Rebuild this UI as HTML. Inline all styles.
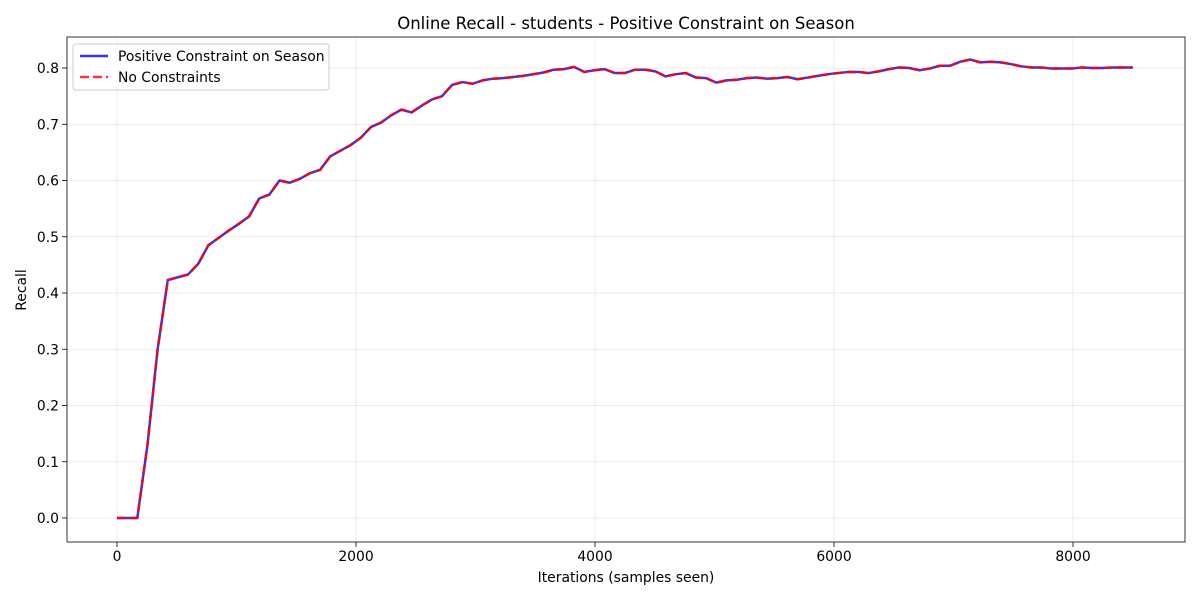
<!DOCTYPE html>
<html><head><meta charset="utf-8"><style>
body{margin:0;background:#fff;font-family:"Liberation Sans","DejaVu Sans",sans-serif}
svg text{font-family:"DejaVu Sans","Liberation Sans",sans-serif}
</style></head><body>
<svg id="chart" width="1200" height="600" xmlns="http://www.w3.org/2000/svg">
<rect width="1200" height="600" fill="#fff"/>
<text x="626" y="29" font-size="16.5" text-anchor="middle" fill="#000">Online Recall - students - Positive Constraint on Season</text>
<g id="grid"></g>
<g id="series"></g>
<rect x="67" y="37" width="1118" height="505" fill="none" stroke="#222" stroke-width="0.9"/>
<g id="ticks"></g>
<text x="626" y="582" font-size="13.9" text-anchor="middle">Iterations (samples seen)</text>
<text transform="translate(26,290) rotate(-90)" font-size="13.9" text-anchor="middle">Recall</text>
<g>
<rect x="73" y="44" width="256" height="46" rx="3" fill="#fff" fill-opacity="0.8" stroke="#ccc"/>
<line x1="80" y1="56" x2="108" y2="56" stroke="#0000ff" stroke-opacity="0.8" stroke-width="2.5"/>
<text x="118" y="61" font-size="13.9">Positive Constraint on Season</text>
<line x1="80" y1="77" x2="108" y2="77" stroke="#ff0000" stroke-opacity="0.8" stroke-width="2.5" stroke-dasharray="9,4"/>
<text x="118" y="82" font-size="13.9">No Constraints</text>
</g>
</svg>
<script>
const step = 85;
const positiveRecall = [0,0,0,0.13,0.30,0.423,0.428,0.433,0.452,0.485,0.498,0.511,0.523,0.536,0.568,0.575,0.600,0.596,0.603,0.613,0.619,0.643,0.653,0.663,0.676,0.695,0.703,0.716,0.726,0.721,0.733,0.744,0.750,0.770,0.775,0.772,0.778,0.781,0.782,0.784,0.786,0.789,0.792,0.797,0.798,0.802,0.793,0.796,0.798,0.791,0.791,0.797,0.797,0.794,0.785,0.789,0.791,0.783,0.782,0.774,0.778,0.779,0.782,0.783,0.781,0.782,0.784,0.780,0.783,0.786,0.789,0.791,0.793,0.793,0.791,0.794,0.798,0.801,0.800,0.796,0.799,0.804,0.804,0.811,0.815,0.810,0.811,0.810,0.807,0.803,0.801,0.801,0.799,0.799,0.799,0.801,0.800,0.800,0.801,0.801,0.801];
const noConstraintRecall = [0,0,0,0.13,0.30,0.423,0.428,0.433,0.452,0.485,0.498,0.511,0.523,0.536,0.568,0.575,0.600,0.596,0.603,0.613,0.619,0.643,0.653,0.663,0.676,0.695,0.703,0.716,0.726,0.721,0.733,0.744,0.750,0.770,0.775,0.772,0.778,0.781,0.782,0.784,0.786,0.789,0.792,0.797,0.798,0.802,0.793,0.796,0.798,0.791,0.791,0.797,0.797,0.794,0.785,0.789,0.791,0.783,0.782,0.774,0.778,0.779,0.782,0.783,0.781,0.782,0.784,0.780,0.783,0.786,0.789,0.791,0.793,0.793,0.791,0.794,0.798,0.801,0.800,0.796,0.799,0.804,0.804,0.811,0.815,0.810,0.811,0.810,0.807,0.803,0.801,0.801,0.799,0.799,0.799,0.801,0.800,0.800,0.801,0.801,0.801];
const xTicks = [0,2000,4000,6000,8000];
const yTicks = [0,0.1,0.2,0.3,0.4,0.5,0.6,0.7,0.8];

const NS="http://www.w3.org/2000/svg";
const L=67,R=1185,T=37,B=542;
const xs=v=>117+v*(956/8000);
const ys=v=>518-v*(450/0.8);
const grid=document.getElementById('grid'),ticks=document.getElementById('ticks'),series=document.getElementById('series');
function mk(tag,attrs,parent){const e=document.createElementNS(NS,tag);for(const k in attrs)e.setAttribute(k,attrs[k]);parent.appendChild(e);return e;}
xTicks.forEach(t=>{
  const x=xs(t);
  const g=mk('line',{x1:x,x2:x,y1:T,y2:B,stroke:'#b0b0b0','stroke-opacity':0.3,'stroke-width':0.8},grid);
  
  
  const tk=mk('line',{x1:x,x2:x,y1:B,y2:B+5,stroke:'#000','stroke-width':0.8},ticks);
  
  
  const tx=mk('text',{x:x,y:B+19,'font-size':13.9,'text-anchor':'middle'},ticks);
  tx.textContent=String(t);
  
  
});
yTicks.forEach(t=>{
  const y=ys(t);
  const g=mk('line',{x1:L,x2:R,y1:y,y2:y,stroke:'#b0b0b0','stroke-opacity':0.3,'stroke-width':0.8},grid);
  
  
  const tk=mk('line',{x1:L-5,x2:L,y1:y,y2:y,stroke:'#000','stroke-width':0.8},ticks);
  
  
  const tx=mk('text',{x:L-8,y:y+5,'font-size':13.9,'text-anchor':'end'},ticks);
  tx.textContent=t.toFixed(1);
  
  
});
function pts(arr){return arr.map((v,i)=>xs(i*step).toFixed(2)+','+ys(v).toFixed(2)).join(' ');}
const p1=mk('polyline',{points:pts(positiveRecall),fill:'none',stroke:'#0000ff','stroke-opacity':0.8,'stroke-width':2.5,'stroke-linejoin':'round'},series);


const p2=mk('polyline',{points:pts(noConstraintRecall),fill:'none',stroke:'#ff0000','stroke-opacity':0.8,'stroke-width':2.5,'stroke-dasharray':'9,4'},series);


</script>
</body></html>
